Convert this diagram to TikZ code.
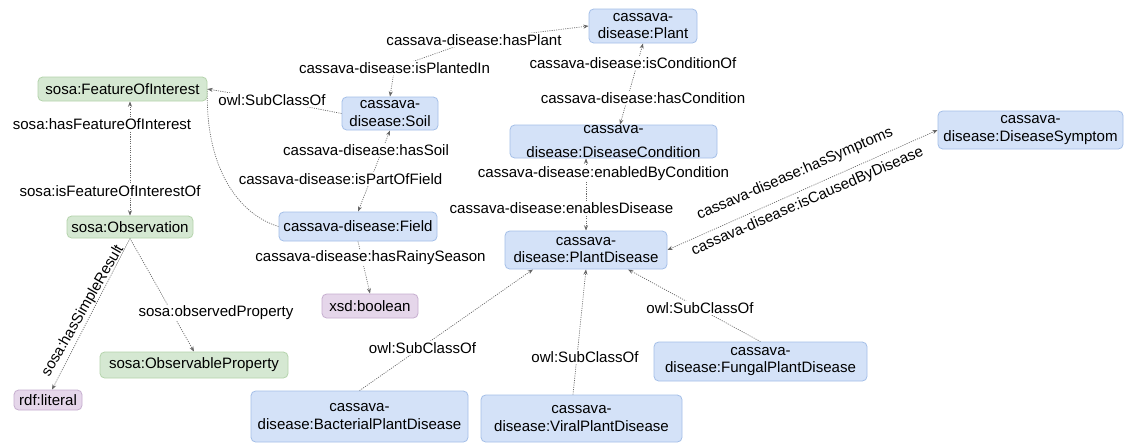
\documentclass[tikz,border=0pt]{standalone}
\usepackage{fontspec}
\setmainfont{Liberation Sans}
\usetikzlibrary{arrows.meta,calc}
\definecolor{bfill}{HTML}{D4E2F8}
\definecolor{bdraw}{HTML}{A4BFE8}
\definecolor{gfill}{HTML}{D5E8D2}
\definecolor{gdraw}{HTML}{B5D4AC}
\definecolor{pfill}{HTML}{E5D6EA}
\definecolor{pdraw}{HTML}{C6AECF}
\definecolor{edgec}{HTML}{666666}
\pgfdeclarelayer{bg}
\pgfsetlayers{bg,main}
\begin{document}
\begin{tikzpicture}[x=0.75pt,y=-0.75pt,
  every node/.style={font=\fontsize{11.3}{13}\selectfont},
  box/.style={rounded corners=3.5pt, line width=0.6pt, inner sep=0pt, align=center},
  bluebox/.style={box, fill=bfill, draw=bdraw},
  greenbox/.style={box, fill=gfill, draw=gdraw},
  purplebox/.style={box, fill=pfill, draw=pdraw},
  lbl/.style={fill=white, inner sep=1pt},
  rlbl/.style={inner sep=1pt},
  edge/.style={draw=edgec, line width=0.5pt, dash pattern=on 0.8pt off 0.9pt},
  onetip/.style={-{Stealth[length=4pt,width=3pt]}},
  dualtip/.style={{Stealth[length=4pt,width=3pt]}-{Stealth[length=4pt,width=3pt]}},
]
\begin{pgfonlayer}{bg}
\fill[white] (0,0) rectangle (1126,447);
\end{pgfonlayer}
\useasboundingbox (0,0) rectangle (1126,447);

% class nodes
\node[greenbox, minimum width=126.75pt, minimum height=18pt] (foi) at (122.5,89) {sosa:FeatureOfInterest};
\node[greenbox, minimum width=94.5pt, minimum height=16.5pt] (obs) at (130,227) {sosa:Observation};
\node[greenbox, minimum width=141pt, minimum height=19.5pt] (op) at (194,365) {sosa:ObservableProperty};
\node[purplebox, minimum width=51pt, minimum height=15pt] (lit) at (48,400) {rdf:literal};
\node[bluebox, minimum width=72pt, minimum height=24.75pt] (soil) at (390,113.5) {cassava-\\disease:Soil};
\node[bluebox, minimum width=81pt, minimum height=25.5pt] (plant) at (643,26) {cassava-\\disease:Plant};
\node[bluebox, minimum width=155.25pt, minimum height=24.75pt] (dc) at (613.5,141.5) {};
\node[align=center, inner sep=0pt] (dct) at (dc.center) {cassava-\\[5.5pt]disease:DiseaseCondition};
\node[bluebox, minimum width=138.75pt, minimum height=28.5pt] (ds) at (1030.5,130) {cassava-\\disease:DiseaseSymptom};
\node[bluebox, minimum width=118.5pt, minimum height=21.75pt] (field) at (358,226.5) {cassava-disease:Field};
\node[purplebox, minimum width=72pt, minimum height=18pt] (bool) at (370,306) {xsd:boolean};
\node[bluebox, minimum width=121.5pt, minimum height=28.5pt] (pd) at (586,250) {cassava-\\disease:PlantDisease};
\node[bluebox, minimum width=162.75pt, minimum height=38.25pt] (bact) at (359.5,416.5) {cassava-\\disease:BacterialPlantDisease};
\node[bluebox, minimum width=150.75pt, minimum height=35.25pt] (viral) at (581.5,418.5) {cassava-\\disease:ViralPlantDisease};
\node[bluebox, minimum width=159.75pt, minimum height=29.25pt] (fungal) at (760.5,361.5) {cassava-\\disease:FungalPlantDisease};

% edge labels
\node[lbl] (lHasPlant) at (474,40) {cassava-disease:hasPlant};
\node[lbl] (lIsPlanted) at (394.5,68) {cassava-disease:isPlantedIn};
\node[lbl] (lSoilSub) at (272,100) {owl:SubClassOf};
\node[lbl] (lHasFoi) at (102,124) {sosa:hasFeatureOfInterest};
\node[lbl] (lIsFoi) at (110,191) {sosa:isFeatureOfInterestOf};
\node[lbl] (lIsCond) at (633,63) {cassava-disease:isConditionOf};
\node[lbl] (lHasCond) at (643,98) {cassava-disease:hasCondition};
\node[lbl] (lHasSoil) at (366,150) {cassava-disease:hasSoil};
\node[lbl] (lPartOf) at (340.5,179) {cassava-disease:isPartOfField};
\node[lbl] (lEnabledBy) at (603.5,174) {cassava-disease:enabledByCondition};
\node[lbl] (lEnables) at (561.5,208) {cassava-disease:enablesDisease};
\node[rlbl, rotate=23.5] (lHasSym) at (795,174) {cassava-disease:hasSymptoms};
\node[rlbl, rotate=23.5] (lCaused) at (807.5,201.5) {cassava-disease:isCausedByDisease};
\node[lbl] (lRainy) at (370.5,258) {cassava-disease:hasRainySeason};
\node[lbl] (lObsProp) at (216,313) {sosa:observedProperty};
\node[rlbl, rotate=60] (lSimple) at (83,311) {sosa:hasSimpleResult};
\node[lbl] (lBact) at (422.5,348) {owl:SubClassOf};
\node[lbl] (lViral) at (585,357) {owl:SubClassOf};
\node[lbl] (lFungal) at (700,308) {owl:SubClassOf};

% connectors
\begin{pgfonlayer}{bg}
\draw[edge, dualtip] (soil.north) -- (lIsPlanted.center) -- (lHasPlant.center) -- (plant.west);
\draw[edge, onetip] (soil.west) -- (lSoilSub.center) -- (foi.east);
\draw[edge] (field.west) .. controls (240,215) and (205,170) .. (foi.east);
\draw[edge, dualtip] (obs.north |- foi.south) -- (obs.north);
\draw[edge, onetip] (obs.south) -- (op.north);
\draw[edge, onetip] (obs.south) -- ($(lit.north)+(4,0)$);
\draw[edge, dualtip] (soil.south) -- (field.north);
\draw[edge, dualtip] (plant.south) -- ($(dc.north)+(6.5,0)$);
\draw[edge, dualtip] (dc.south -| pd.north) -- (pd.north);
\draw[edge, dualtip] (pd.east) -- (ds.west);
\draw[edge, onetip] (field.south) -- (bool.north);
\draw[edge, onetip] (bact.north) -- ($(pd.south)+(-53,0)$);
\draw[edge, onetip] ($(viral.north)+(-8.5,0)$) -- (pd.south);
\draw[edge, onetip] (fungal.north) -- ($(pd.south)+(42,0)$);
\end{pgfonlayer}
\end{tikzpicture}
\end{document}
